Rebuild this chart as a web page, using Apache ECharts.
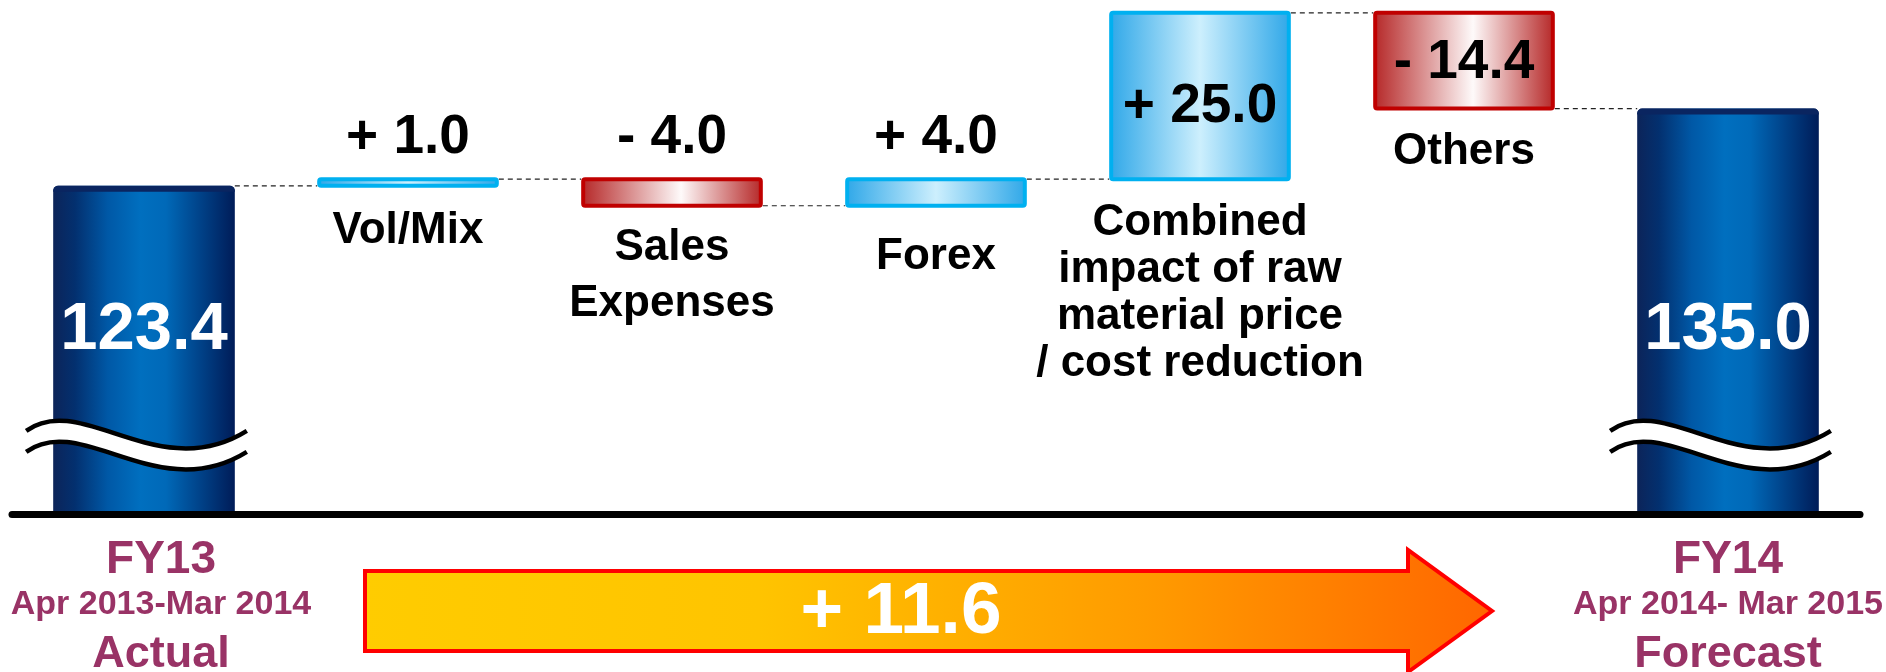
<!DOCTYPE html>
<html><head><meta charset="utf-8">
<script src="https://cdn.jsdelivr.net/npm/echarts@6/dist/echarts.min.js"></script>
<style>html,body{margin:0;padding:0;background:#fff}#chart{width:1886px;height:672px}</style>
</head><body><div id="chart"></div>
<script>
// ---- data ----
const categories = ['FY13', 'Vol/Mix', 'Sales\nExpenses', 'Forex', 'Combined\nimpact of raw\nmaterial price\n/ cost reduction', 'Others', 'FY14'];
const periods = ['Apr 2013-Mar 2014', '', '', '', '', '', 'Apr 2014- Mar 2015'];
const statuses = ['Actual', '', '', '', '', '', 'Forecast'];
const totals = [123.4, null, null, null, null, null, 135.0];
const changes = [null, 1.0, -4.0, 4.0, 25.0, -14.4, null];

// ---- axis / styling config ----
const Y_MIN = 74, Y_MAX = 150;
const BREAK_LEVEL = 85;          // where the broken-axis wave is drawn
const TOTAL_LABEL_LEVEL = 101.7; // where the total values are written
const FONT = '"Liberation Sans", Arial, Helvetica, sans-serif';
const LABEL_LH = [0, 47, 56, 47, 47, 47, 0];
const LABEL_GAP = [0, 22, 14, 28, 20, 20, 0];
const VALUE_DY = [0, -14, -14, -14, 11, 2, 0];
const PURPLE = '#993366';

// build waterfall rows from the data arrays
let running = 0;
const rows = categories.map((c, i) => {
  if (totals[i] != null) {
    running = totals[i];
    return { kind: 'total', start: Y_MIN, end: totals[i], value: totals[i] };
  }
  const s = running;
  running = Math.round((running + changes[i]) * 10) / 10;
  return { kind: changes[i] >= 0 ? 'up' : 'down', start: s, end: running, value: changes[i] };
});

const grad = stops => ({ type: 'linear', x: 0, y: 0, x2: 1, y2: 0, global: false,
  colorStops: stops.map(([o, c]) => ({ offset: o, color: c })) });
const FILL = {
  total: grad([[0, '#0c2459'], [0.12, '#03306f'], [0.3, '#0058a6'], [0.48, '#006fbf'], [0.62, '#0069b8'], [0.8, '#00448b'], [1, '#001c58']]),
  up: grad([[0, '#2ea7e8'], [0.5, '#cdeffd'], [1, '#2ea7e8']]),
  down: grad([[0, '#b52626'], [0.55, '#fefafa'], [1, '#b52626']])
};
const STROKE = { up: '#00b0f0', down: '#c00000' };

function renderItem(params, api) {
  const i = api.value(0);
  const r = rows[i];
  const band = api.size([1, 0])[0];
  const w = band * 0.688;
  const pS = api.coord([i, r.start]);
  const pE = api.coord([i, r.end]);
  const cx = pS[0], x = cx - w / 2;
  const yTop = Math.min(pS[1], pE[1]);
  const yBot = Math.max(pS[1], pE[1]);
  const ch = [];
  if (i < rows.length - 1) {
    const nx = api.coord([i + 1, r.end])[0] - w / 2;
    ch.push({ type: 'line', shape: { x1: x + w, y1: pE[1], x2: nx, y2: pE[1] },
      style: { stroke: '#222', lineWidth: 1.2, lineDash: [5, 4] } });
  }
  if (r.kind === 'total') {
    ch.push({ type: 'rect', shape: { x: x, y: yTop, width: w, height: yBot - yTop, r: [5, 5, 0, 0] },
      style: { fill: FILL.total } });
    ch.push({ type: 'rect', shape: { x: x, y: yTop, width: w, height: 6, r: [5, 5, 0, 0] },
      style: { fill: '#0a2560' } });
    // broken-axis wave
    const yc = api.coord([i, BREAK_LEVEL])[1];
    const x0 = x - 27, x1 = x + w + 12, ww = x1 - x0;
    const yu = yc - 10.5, yl = yc + 10.5;
    const c1x = x0 + 0.25 * ww, c2x = x0 + 0.6 * ww;
    const up = `M${x0} ${yu} C${c1x} ${yu - 40} ${c2x} ${yu + 55} ${x1} ${yu}`;
    const lo = `M${x0} ${yl} C${c1x} ${yl - 40} ${c2x} ${yl + 55} ${x1} ${yl}`;
    const bandPath = `M${x0} ${yu} C${c1x} ${yu - 40} ${c2x} ${yu + 55} ${x1} ${yu} L${x1} ${yl} C${c2x} ${yl + 55} ${c1x} ${yl - 40} ${x0} ${yl} Z`;
    ch.push({ type: 'path', shape: { pathData: bandPath }, style: { fill: '#fff', stroke: null } });
    ch.push({ type: 'path', shape: { pathData: up }, style: { fill: null, stroke: '#000', lineWidth: 4.5 } });
    ch.push({ type: 'path', shape: { pathData: lo }, style: { fill: null, stroke: '#000', lineWidth: 4.5 } });
    const ly = api.coord([i, TOTAL_LABEL_LEVEL])[1];
    ch.push({ type: 'text', x: cx, y: ly, style: { text: r.value.toFixed(1), fill: '#fff',
      fontSize: 67, fontWeight: 'bold', fontFamily: FONT, align: 'center', verticalAlign: 'middle' } });
  } else {
    const h = Math.max(yBot - yTop, 1);
    ch.push({ type: 'rect', shape: { x: x + 2, y: yTop, width: w - 4, height: h, r: 2 },
      style: { fill: FILL[r.kind], stroke: STROKE[r.kind], lineWidth: 4 } });
    const txt = (r.value > 0 ? '+ ' : '- ') + Math.abs(r.value).toFixed(1);
    const inside = h > 60;
    ch.push({ type: 'text', x: cx, y: (inside ? (yTop + yBot) / 2 : yTop) + VALUE_DY[i],
      style: { text: txt, fill: '#000', fontSize: 55, fontWeight: 'bold', fontFamily: FONT,
        align: 'center', verticalAlign: inside ? 'middle' : 'bottom' } });
    ch.push({ type: 'text', x: cx, y: yBot + LABEL_GAP[i],
      style: { text: categories[i], fill: '#000', fontSize: 44, fontWeight: 'bold', fontFamily: FONT,
        align: 'center', verticalAlign: 'top', lineHeight: LABEL_LH[i] } });
  }
  return { type: 'group', children: ch };
}

const chart = echarts.init(document.getElementById('chart'), null, { renderer: 'canvas' });
const diff = totals[totals.length - 1] - totals[0];
const richBase = (fs, lh) => ({ fontSize: fs, fontWeight: 'bold', color: PURPLE, fontFamily: FONT, lineHeight: lh });
const shifted = (fs, lh) => Object.assign(richBase(fs, lh), { padding: [0, 0, 0, 34] });

chart.setOption({
  animation: false,
  backgroundColor: '#fff',
  grid: { left: 12, right: 26, top: 8.8, bottom: 157.5, containLabel: false, outerBoundsMode: 'none' },
  xAxis: {
    type: 'category', data: categories, z: 10,
    axisLine: { lineStyle: { color: '#000', width: 7 } },
    axisTick: { show: false },
    splitLine: { show: false },
    axisLabel: {
      interval: 0, margin: 24,
      formatter: (v, idx) => {
        if (!periods[idx]) return '';
        const s = idx === 0 ? '0' : '';
        return `{a${s}|${v}}\n{b${s}|${periods[idx]}}\n{c${s}|${statuses[idx]}}`;
      },
      rich: {
        a: richBase(46, 44), b: richBase(34, 44), c: richBase(45, 56),
        a0: shifted(46, 44), b0: shifted(34, 44), c0: shifted(45, 56)
      }
    }
  },
  yAxis: { type: 'value', min: Y_MIN, max: Y_MAX, show: false, splitLine: { show: false } },
  series: [{
    type: 'custom',
    renderItem: renderItem,
    data: rows.map((r, i) => [i, r.start, r.end]),
    encode: { x: 0, y: [1, 2] },
    clip: false
  }],
  graphic: [
    {
      type: 'polygon', z: 5,
      shape: { points: [[365, 571], [1408, 571], [1408, 550], [1492, 611], [1408, 672], [1408, 651], [365, 651]] },
      style: {
        fill: { type: 'linear', x: 0, y: 0, x2: 1, y2: 0, colorStops: [
          { offset: 0, color: '#ffcc00' }, { offset: 0.35, color: '#ffc400' },
          { offset: 0.7, color: '#ff9a00' }, { offset: 1, color: '#ff6600' }] },
        stroke: '#ff0000', lineWidth: 4, lineJoin: 'miter'
      }
    },
    {
      type: 'text', z: 6, x: 901, y: 613,
      style: { text: (diff >= 0 ? '+ ' : '- ') + Math.abs(diff).toFixed(1), fill: '#fff',
        fontSize: 73, fontWeight: 'bold', fontFamily: FONT, align: 'center', verticalAlign: 'middle' }
    }
  ]
});
</script>
</body></html>
